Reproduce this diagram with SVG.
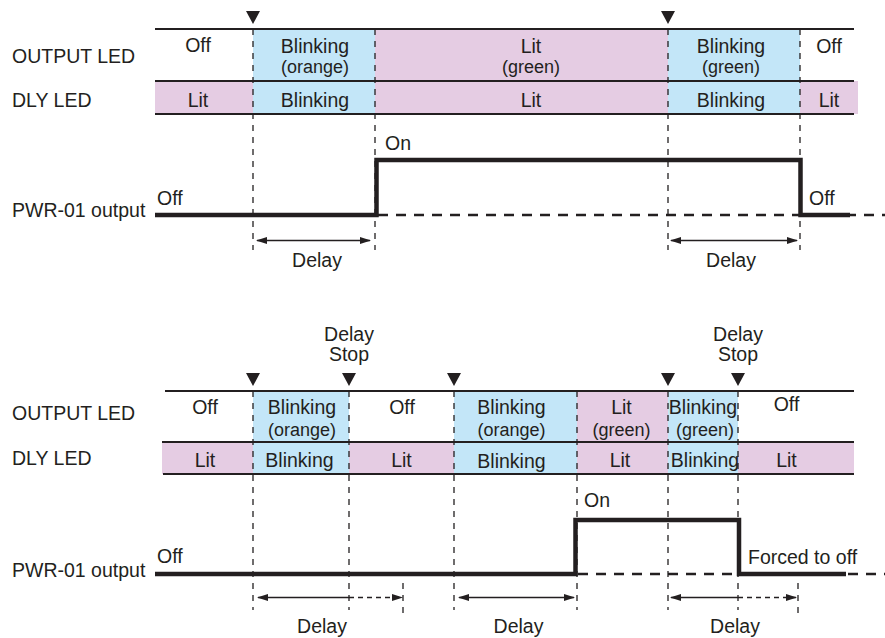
<svg xmlns="http://www.w3.org/2000/svg" width="885" height="638" viewBox="0 0 885 638">
<style>
text{font-family:"Liberation Sans",Arial,Helvetica,sans-serif;font-size:19.5px;fill:#231f20}
.m{text-anchor:middle}
.s{font-size:18px}
.b{fill:#c3e6f8}
.p{fill:#e5cce3}
.row{stroke:#231f20;stroke-width:2;fill:none}
.vd{stroke:#231f20;stroke-width:1.3;stroke-dasharray:6 6;fill:none}
.sig{stroke:#231f20;stroke-width:4.5;fill:none;stroke-linejoin:miter}
.sd{stroke:#231f20;stroke-width:2.5;stroke-dasharray:10 8;fill:none}
.ar{stroke:#231f20;stroke-width:1.3;fill:none}
.ad{stroke:#231f20;stroke-width:1.3;stroke-dasharray:5 4;fill:none}
.tri{fill:#231f20}
</style>
<defs>
<marker id="ah" markerWidth="11" markerHeight="7" refX="10" refY="3.5" orient="auto-start-reverse" markerUnits="userSpaceOnUse">
<path d="M0,0 L11,3.5 L0,7 z" fill="#231f20"/>
</marker>
<path id="tr" d="M-7,0 L7,0 L0,13 z"/>
</defs>

<g id="top-diagram">
<g id="top-fills">
<rect class="b" x="253" y="29" width="122" height="52"/>
<rect class="p" x="375" y="29" width="293" height="52"/>
<rect class="b" x="668" y="29" width="132" height="52"/>
<rect class="p" x="155" y="81" width="98" height="33"/>
<rect class="b" x="253" y="81" width="122" height="33"/>
<rect class="p" x="375" y="81" width="293" height="33"/>
<rect class="b" x="668" y="81" width="132" height="33"/>
<rect class="p" x="800" y="81" width="58" height="33"/>
</g>
<g id="top-rows">
<line class="row" x1="155" y1="29" x2="854" y2="29"/>
<line class="row" x1="155" y1="81" x2="854" y2="81"/>
<line class="row" x1="155" y1="114" x2="854" y2="114"/>
</g>
<g id="top-markers">
<use href="#tr" class="tri" x="253" y="11"/>
<use href="#tr" class="tri" x="668" y="11"/>
</g>
<g id="top-labels">
<text x="12" y="63">OUTPUT LED</text>
<text x="12" y="106.5">DLY LED</text>
<text x="12" y="217">PWR-01 output</text>
</g>
<g id="top-output-led">
<text class="m" x="198" y="52">Off</text>
<text class="m" x="315" y="52.5">Blinking</text>
<text class="m s" x="315" y="72.5">(orange)</text>
<text class="m" x="531" y="52.5">Lit</text>
<text class="m s" x="531" y="72.5">(green)</text>
<text class="m" x="731" y="52.5">Blinking</text>
<text class="m s" x="731" y="72.5">(green)</text>
<text class="m" x="829" y="53">Off</text>
</g>
<g id="top-dly-led">
<text class="m" x="198" y="106.5">Lit</text>
<text class="m" x="315" y="106.5">Blinking</text>
<text class="m" x="531" y="106.5">Lit</text>
<text class="m" x="731" y="106.5">Blinking</text>
<text class="m" x="829" y="106.5">Lit</text>
</g>
<g id="top-connectors">
<line class="vd" x1="253" y1="29" x2="253" y2="250"/>
<line class="vd" x1="375" y1="29" x2="375" y2="250"/>
<line class="vd" x1="668" y1="29" x2="668" y2="250"/>
<line class="vd" x1="800" y1="29" x2="800" y2="250"/>
<line class="sd" x1="378" y1="215" x2="885" y2="215"/>
<path class="sig" d="M155,215 H376.5 V160 H800.5 V215 H850"/>
<line class="ar" x1="257" y1="240.5" x2="370" y2="240.5" marker-start="url(#ah)" marker-end="url(#ah)"/>
<line class="ar" x1="671" y1="240.5" x2="797" y2="240.5" marker-start="url(#ah)" marker-end="url(#ah)"/>
</g>
<g id="top-signal-labels">
<text x="157" y="205">Off</text>
<text x="385" y="150">On</text>
<text x="809" y="205">Off</text>
<text class="m" x="317" y="267">Delay</text>
<text class="m" x="731" y="267">Delay</text>
</g>
</g>

<g id="bottom-diagram">
<g id="bottom-fills">
<rect class="b" x="253" y="391" width="96" height="51"/>
<rect class="b" x="454" y="391" width="123" height="51"/>
<rect class="p" x="577" y="391" width="91" height="51"/>
<rect class="b" x="668" y="391" width="70" height="51"/>
<rect class="p" x="162" y="442" width="91" height="32"/>
<rect class="b" x="253" y="442" width="96" height="32"/>
<rect class="p" x="349" y="442" width="105" height="32"/>
<rect class="b" x="454" y="442" width="123" height="32"/>
<rect class="p" x="577" y="442" width="91" height="32"/>
<rect class="b" x="668" y="442" width="70" height="32"/>
<rect class="p" x="738" y="442" width="116" height="32"/>
</g>
<g id="bottom-rows">
<line class="row" x1="165" y1="391" x2="854" y2="391"/>
<line class="row" x1="162" y1="442" x2="854" y2="442"/>
<line class="row" x1="163" y1="474" x2="854" y2="474"/>
</g>
<g id="bottom-markers">
<use href="#tr" class="tri" x="253" y="373"/>
<use href="#tr" class="tri" x="349" y="373"/>
<use href="#tr" class="tri" x="454" y="373"/>
<use href="#tr" class="tri" x="668" y="373"/>
<use href="#tr" class="tri" x="738" y="373"/>
<text class="m" x="349" y="341">Delay</text>
<text class="m" x="349" y="361">Stop</text>
<text class="m" x="738" y="341">Delay</text>
<text class="m" x="738" y="361">Stop</text>
</g>
<g id="bottom-labels">
<text x="12" y="420">OUTPUT LED</text>
<text x="12" y="465">DLY LED</text>
<text x="12" y="577">PWR-01 output</text>
</g>
<g id="bottom-output-led">
<text class="m" x="205" y="414">Off</text>
<text class="m" x="302" y="414">Blinking</text>
<text class="m s" x="302" y="435.5">(orange)</text>
<text class="m" x="402" y="414">Off</text>
<text class="m" x="511.5" y="414">Blinking</text>
<text class="m s" x="511.5" y="435.5">(orange)</text>
<text class="m" x="621.5" y="414">Lit</text>
<text class="m s" x="621.5" y="435.5">(green)</text>
<text class="m" x="703" y="414">Blinking</text>
<text class="m s" x="705" y="435.5">(green)</text>
<text class="m" x="786.5" y="411">Off</text>
</g>
<g id="bottom-dly-led">
<text class="m" x="205" y="466.5">Lit</text>
<text class="m" x="299.5" y="466.5">Blinking</text>
<text class="m" x="401.5" y="466.5">Lit</text>
<text class="m" x="511.5" y="468">Blinking</text>
<text class="m" x="620" y="466.5">Lit</text>
<text class="m" x="705" y="466.5">Blinking</text>
<text class="m" x="786.5" y="466.5">Lit</text>
</g>
<g id="bottom-connectors">
<line class="vd" x1="253" y1="391" x2="253" y2="610"/>
<line class="vd" x1="349" y1="391" x2="349" y2="610"/>
<line class="vd" x1="454" y1="391" x2="454" y2="610"/>
<line class="vd" x1="577" y1="391" x2="577" y2="610"/>
<line class="vd" x1="668" y1="391" x2="668" y2="610"/>
<line class="vd" x1="738" y1="391" x2="738" y2="610"/>
<line class="vd" x1="403" y1="583" x2="403" y2="617"/>
<line class="vd" x1="798" y1="583" x2="798" y2="617"/>
<line class="sd" x1="578" y1="574" x2="885" y2="574"/>
<path class="sig" d="M155,574 H575.5 V520 H739 V574 H846"/>
<line class="ar" x1="258" y1="597.5" x2="349" y2="597.5" marker-start="url(#ah)"/>
<line class="ad" x1="349" y1="597.5" x2="402" y2="597.5" marker-end="url(#ah)"/>
<line class="ar" x1="459" y1="597.5" x2="574" y2="597.5" marker-start="url(#ah)" marker-end="url(#ah)"/>
<line class="ar" x1="671" y1="597.5" x2="738" y2="597.5" marker-start="url(#ah)"/>
<line class="ad" x1="738" y1="597.5" x2="796" y2="597.5" marker-end="url(#ah)"/>
</g>
<g id="bottom-signal-labels">
<text x="157" y="563">Off</text>
<text x="584" y="507">On</text>
<text x="748" y="564">Forced to off</text>
<text class="m" x="322" y="633">Delay</text>
<text class="m" x="518.5" y="633">Delay</text>
<text class="m" x="735" y="633">Delay</text>
</g>
</g>
</svg>
